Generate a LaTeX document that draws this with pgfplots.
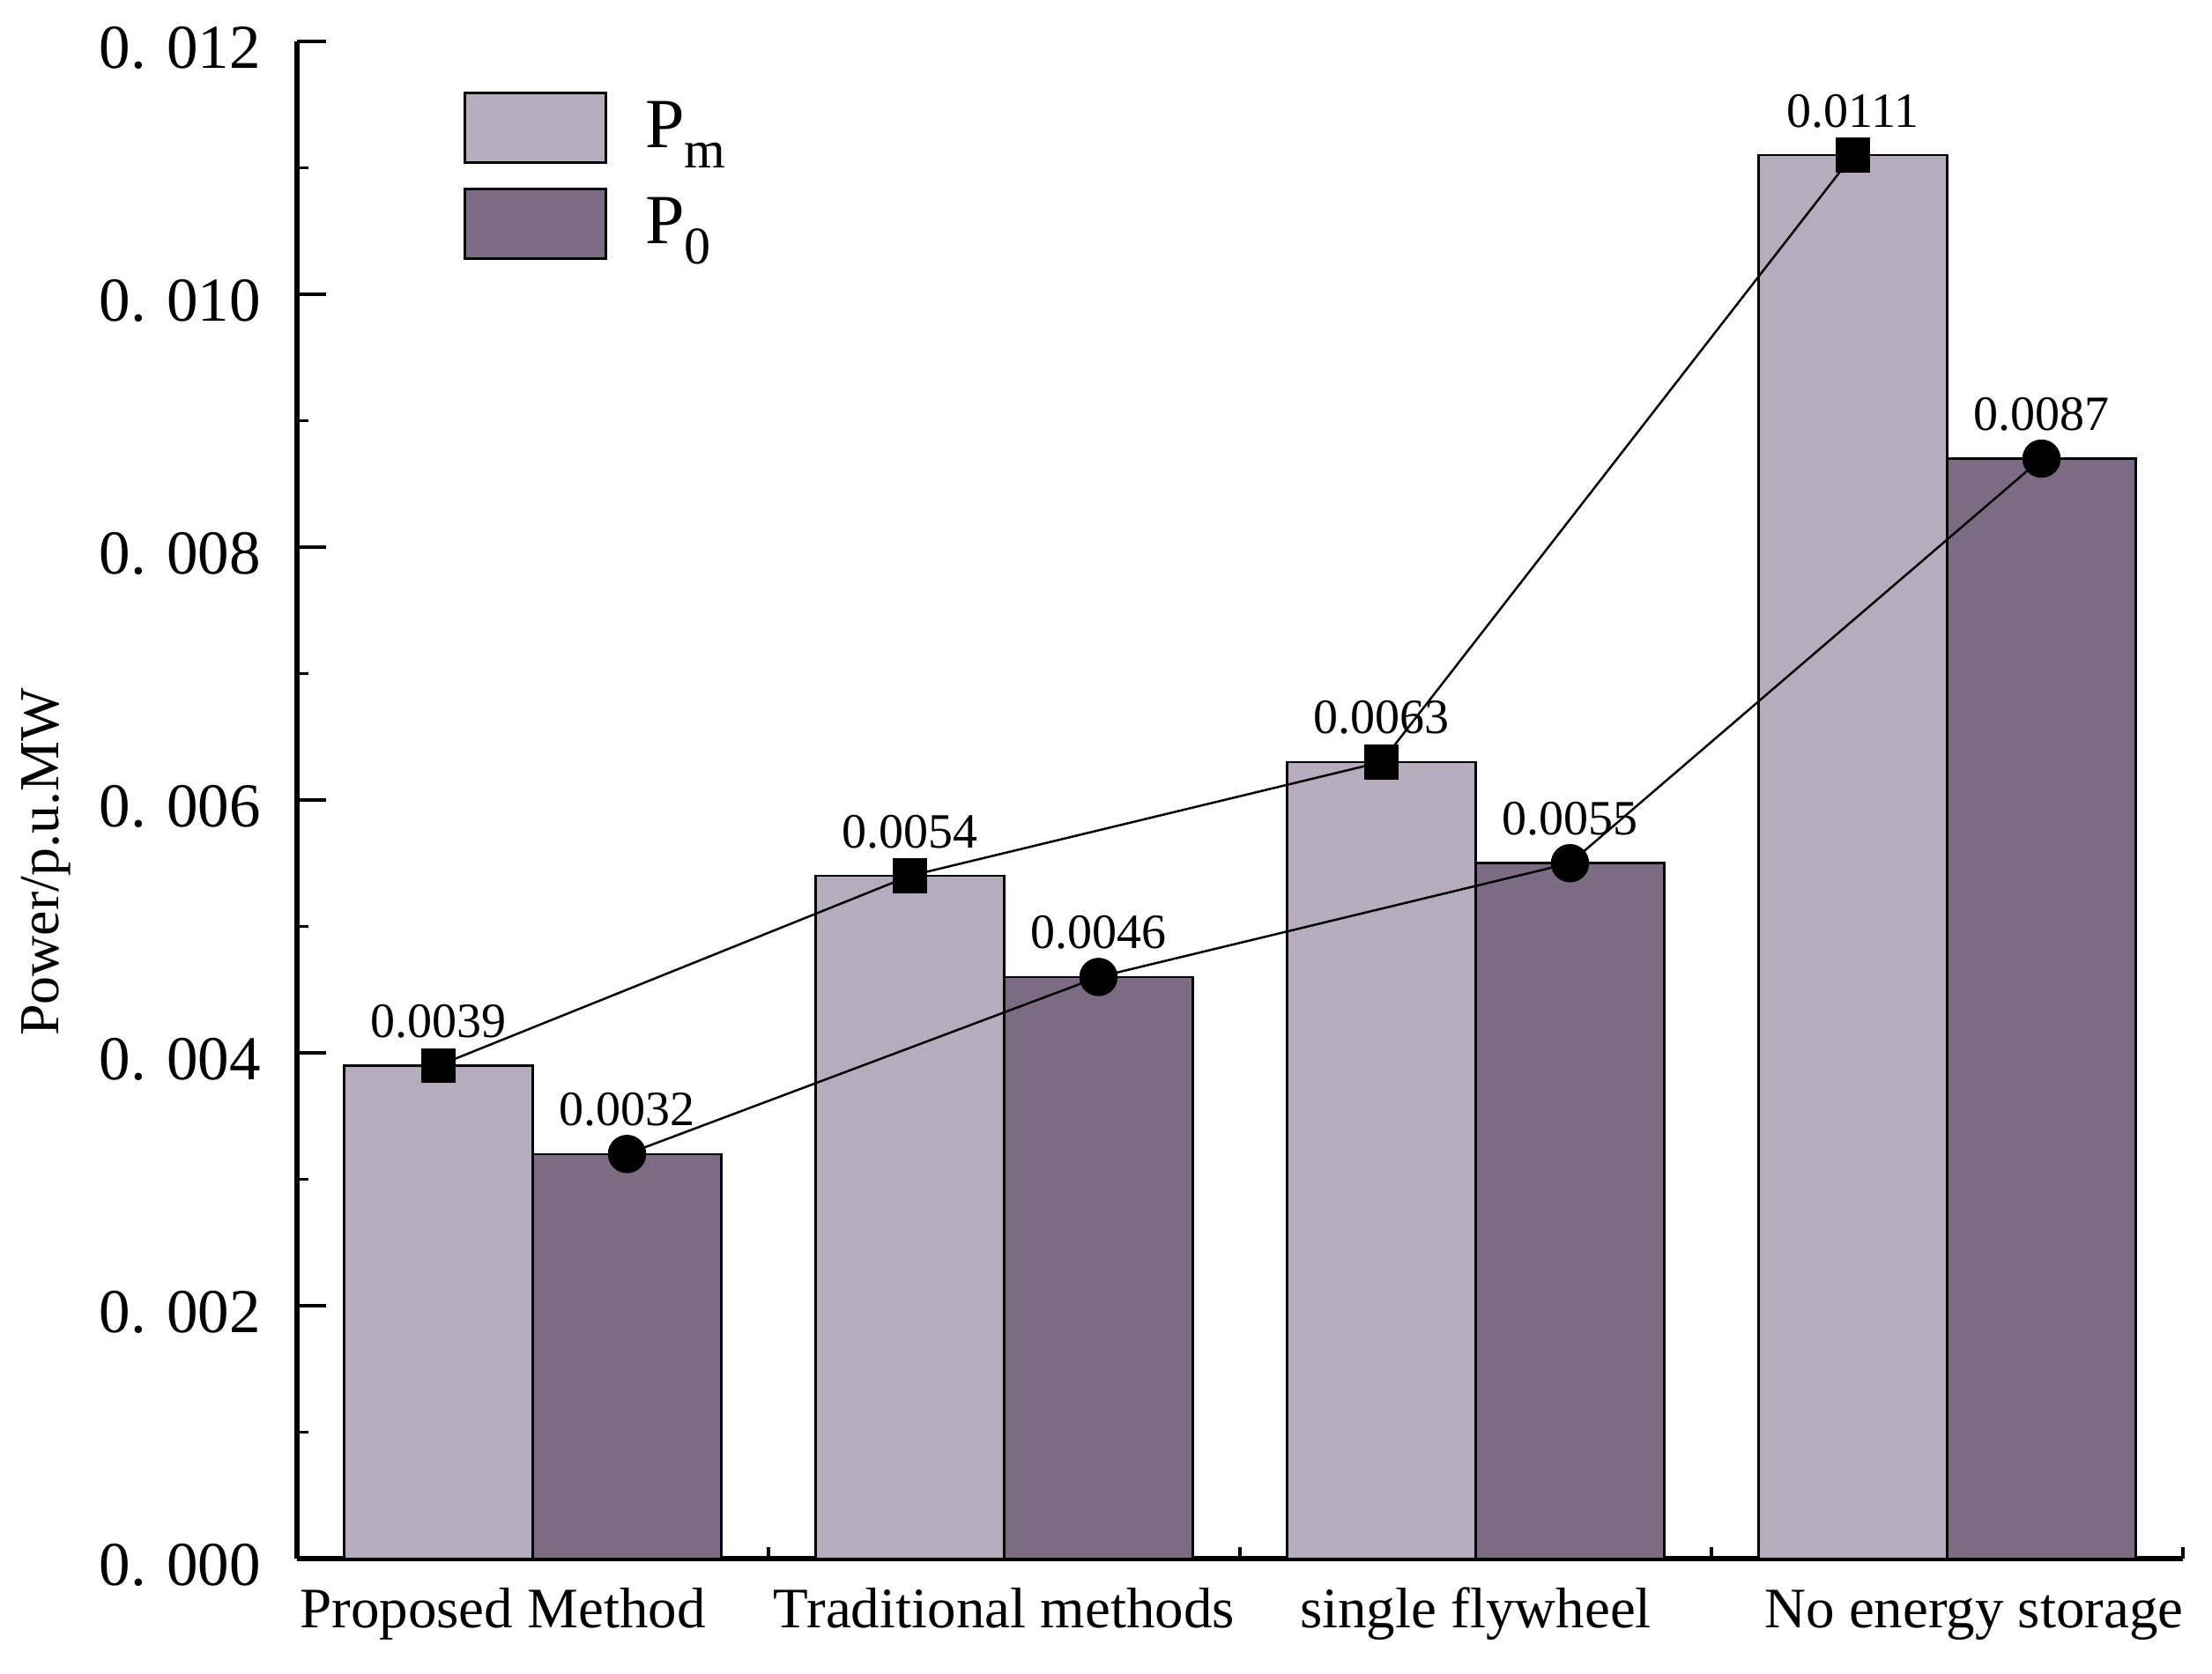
\documentclass[border=0pt]{standalone}
\usepackage{pgfplots}
\pgfplotsset{compat=1.18}
\usepackage{fontspec}
\setmainfont{Liberation Serif}
\definecolor{pmc}{HTML}{B5ACBE}
\definecolor{p0c}{HTML}{7B6C84}
\begin{document}
\begin{tikzpicture}
\begin{axis}[
 scale only axis, width=428pt, height=344.4pt,
 xmin=-0.5, xmax=3.5, ymin=0, ymax=0.012,
 axis x line=bottom, axis y line=left,
 axis line style={-, line width=1.2pt},
 xtick={0,1,2,3},
 xticklabels={{\kern-13.6pt Proposed Method},{Traditional methods},{single flywheel},{\kern12.2pt No energy storage}},
 minor xtick={0.5,1.5,2.5,3.5},
 ytick={0,0.002,0.004,0.006,0.008,0.010,0.012},
 yticklabels={0. 000,0. 002,0. 004,0. 006,0. 008,0. 010,0. 012},
 minor ytick={0.001,0.003,0.005,0.007,0.009,0.011},
 tick align=inside,
 major tick length=6.5pt, minor tick length=2.7pt,
 every tick/.style={black, line width=0.7pt},
 scaled y ticks=false,
 xticklabel style={font=\fontsize{13}{13}\selectfont, anchor=base, yshift=-15.6pt, inner sep=0pt},
 yticklabel style={font=\fontsize{14.2}{14.2}\selectfont, anchor=east, xshift=-8pt, yshift=-1.5pt, inner sep=0pt},
 ylabel={Power/p.u.MW},
 ylabel style={at={(axis description cs:-0.1265,0.459)}, anchor=base, font=\fontsize{12.8}{12.8}\selectfont},
 legend style={at={(axis description cs:0.0877,0.9675)}, anchor=north west, draw=none, fill=none, inner sep=0pt, row sep=5.3pt, column sep=8.6pt, nodes={inner sep=0pt}, font=\fontsize{16}{16}\selectfont},
 legend cell align=left,
 legend image code/.code={\draw[#1, line width=0.7pt] (0pt,-7.9pt) rectangle (32pt,7.9pt);},
]
\addplot[ybar, bar width=0.4, bar shift=0, fill=pmc, draw=black, line width=0.5pt] coordinates {(-0.2,0.0039)(0.8,0.0054)(1.8,0.0063)(2.8,0.0111)};
\addlegendentry{P\raisebox{-4.6pt}{\fontsize{12}{12}\selectfont m}}
\addplot[ybar, bar width=0.4, bar shift=0, fill=p0c, draw=black, line width=0.5pt] coordinates {(0.2,0.0032)(1.2,0.0046)(2.2,0.0055)(3.2,0.0087)};
\addlegendentry{P\raisebox{-4.6pt}{\fontsize{12}{12}\selectfont 0}}
\addplot[black, line width=0.5pt, mark=square*, mark size=3.7pt, mark options={solid}, nodes near coords, point meta=explicit symbolic, every node near coord/.style={anchor=base, yshift=6.4pt, inner sep=0pt, font=\fontsize{11.2}{11.2}\selectfont, black}, forget plot] coordinates {(-0.2,0.0039)[0.0039] (0.8,0.0054)[0.0054] (1.8,0.0063)[0.0063] (2.8,0.0111)[0.0111]};
\addplot[black, line width=0.5pt, mark=*, mark size=4.1pt, mark options={solid}, nodes near coords, point meta=explicit symbolic, every node near coord/.style={anchor=base, yshift=6.4pt, inner sep=0pt, font=\fontsize{11.2}{11.2}\selectfont, black}, forget plot] coordinates {(0.2,0.0032)[0.0032] (1.2,0.0046)[0.0046] (2.2,0.0055)[0.0055] (3.2,0.0087)[0.0087]};
\end{axis}
\pgfresetboundingbox
\path[use as bounding box] ([xshift=-67.4pt,yshift=-26pt]current axis.south west) rectangle ++(502pt,379.8pt);
\end{tikzpicture}
\end{document}
